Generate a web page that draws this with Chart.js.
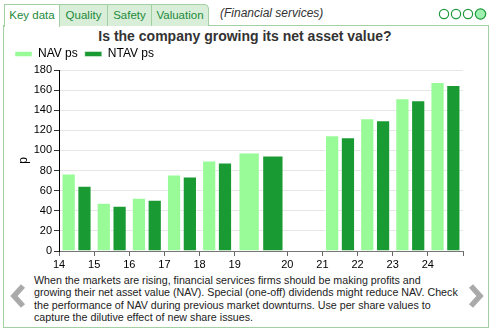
<!DOCTYPE html>
<html>
<head>
<meta charset="utf-8">
<script src="https://cdn.jsdelivr.net/npm/chart.js@4.4.1/dist/chart.umd.min.js"></script>
<style>
  body { margin:0; width:496px; height:332px; background:#fff; position:relative; overflow:hidden;
         font-family:"Liberation Sans", Arial, sans-serif; }
  .tab { position:absolute; top:4px; height:22px; box-sizing:border-box; border:1px solid #a3d0a3;
         border-bottom:none; background:#d8eed8; color:#1d8a3a; font-size:11.5px; line-height:20px;
         text-align:center; z-index:2; }
  .tab.on { background:#fff; height:23px; }
  #box { position:absolute; left:3px; top:25px; width:486px; height:303px; box-sizing:border-box;
         border:1px solid #a3d0a3; }
  #sector { position:absolute; left:220px; top:6px; font-size:12px; font-style:italic; color:#333; }
  #title { position:absolute; left:0; top:28px; width:490px; text-align:center; font-size:14px;
           line-height:16px; font-weight:bold; color:#333; }
  #wrap { position:absolute; left:4px; top:41px; width:483px; height:229px; }
  #desc { position:absolute; left:34px; top:274px; font-size:10.7px; line-height:12.3px; color:#222; }
  svg { position:absolute; left:0; top:0; }
</style>
</head>
<body>
<div id="box"></div>
<div class="tab on" style="left:4px;width:56px">Key data</div>
<div class="tab" style="left:59px;width:49px">Quality</div>
<div class="tab" style="left:107px;width:45px">Safety</div>
<div class="tab" style="left:151px;width:58px;border-top-right-radius:5px">Valuation</div>
<div id="sector">(Financial services)</div>
<div id="title">Is the company growing its net asset value?</div>
<svg width="496" height="332">
  <circle cx="444" cy="14" r="4.6" fill="#fff" stroke="#1d9a3c" stroke-width="1.2"/>
  <circle cx="456" cy="14" r="4.6" fill="#fff" stroke="#1d9a3c" stroke-width="1.2"/>
  <circle cx="468" cy="14" r="4.6" fill="#fff" stroke="#1d9a3c" stroke-width="1.2"/>
  <circle cx="480.5" cy="14" r="5.2" fill="#9ff0b0" stroke="#1d9a3c" stroke-width="1.2"/>
  <polyline points="23,286 14,296 23,306" fill="none" stroke="#aaa" stroke-width="5.5"/>
  <polyline points="471,286 480,296 471,306" fill="none" stroke="#aaa" stroke-width="5.5"/>
</svg>
<div id="wrap"><canvas id="myChart"></canvas></div>
<div id="desc">When the markets are rising, financial services firms should be making profits and<br>growing their net asset value (NAV). Special (one-off) dividends might reduce NAV. Check<br>the performance of NAV during previous market downturns. Use per share values to<br>capture the dilutive effect of new share issues.</div>

<script>
// periods: start year and length in years (19 was an 18 month period, nothing for 20)
const periodStart = [14, 15, 16, 17, 18, 19, 21.5, 22.5, 23.5, 24.5];
const periodLength = [1, 1, 1, 1, 1, 1.5, 1, 1, 1, 1];
const navPs = [77, 48, 53, 76, 90, 98, 115, 132, 152, 168];
const ntavPs = [65, 45, 51, 74, 88, 95, 113, 130, 150, 165];

const tickValues = [14, 15, 16, 17, 18, 19, 20.5, 21.5, 22.5, 23.5, 24.5, 25.5];
const tickLabels = ['14', '15', '16', '17', '18', '19', '20', '21', '22', '23', '24', ''];

const navColor = '#98fb98';
const ntavColor = '#1a9a32';

function series(label, values, color, stack, len) {
  const pts = [];
  values.forEach((v, i) => {
    if (periodLength[i] === len) pts.push({x: periodStart[i] + len / 2, y: v});
  });
  return {
    label: label,
    data: pts,
    backgroundColor: color,
    borderColor: 'rgba(255,255,255,0.45)',
    borderWidth: 1,
    stack: stack,
    categoryPercentage: 0.9 * len,
    barPercentage: 0.9
  };
}

const datasets = [];
[...new Set(periodLength)].forEach(len => {
  datasets.push(series('NAV ps', navPs, navColor, 'nav', len));
  datasets.push(series('NTAV ps', ntavPs, ntavColor, 'ntav', len));
});

new Chart(document.getElementById('myChart'), {
  type: 'bar',
  data: {datasets: datasets},
  options: {
    responsive: true,
    maintainAspectRatio: false,
    animation: false,
    layout: {padding: {left: 4, right: 24, top: 0, bottom: 0}},
    plugins: {
      legend: {
        align: 'start',
        labels: {
          filter: (item) => item.datasetIndex < 2,
          boxWidth: 17,
          boxHeight: 5,
          padding: 7,
          color: '#000',
          font: {family: 'Liberation Sans', size: 12}
        }
      },
      tooltip: {enabled: false}
    },
    scales: {
      x: {
        type: 'linear',
        min: 14,
        max: 25.5,
        offset: false,
        afterBuildTicks: (axis) => { axis.ticks = tickValues.map(v => ({value: v})); },
        afterFit: (scale) => { scale.height = 19; },
        ticks: {
          autoSkip: false,
          maxRotation: 0,
          padding: 2,
          color: '#000',
          font: {family: 'Liberation Sans', size: 11},
          callback: (v, i) => tickLabels[i]
        },
        grid: {offset: false, drawOnChartArea: false, tickLength: 5, color: '#666'},
        border: {color: '#777'}
      },
      y: {
        stacked: false,
        min: 0,
        max: 180,
        afterFit: (scale) => { scale.width = 51; },
        ticks: {stepSize: 20, padding: 2, color: '#000', font: {family: 'Liberation Sans', size: 11}},
        grid: {color: '#e6e6e6', tickColor: '#333', tickLength: 5},
        border: {color: '#000'},
        title: {display: true, text: 'p', color: '#000', padding: {top: 8, bottom: 0},
                font: {family: 'Liberation Sans', size: 12}}
      }
    }
  }
});
</script>
</body>
</html>
